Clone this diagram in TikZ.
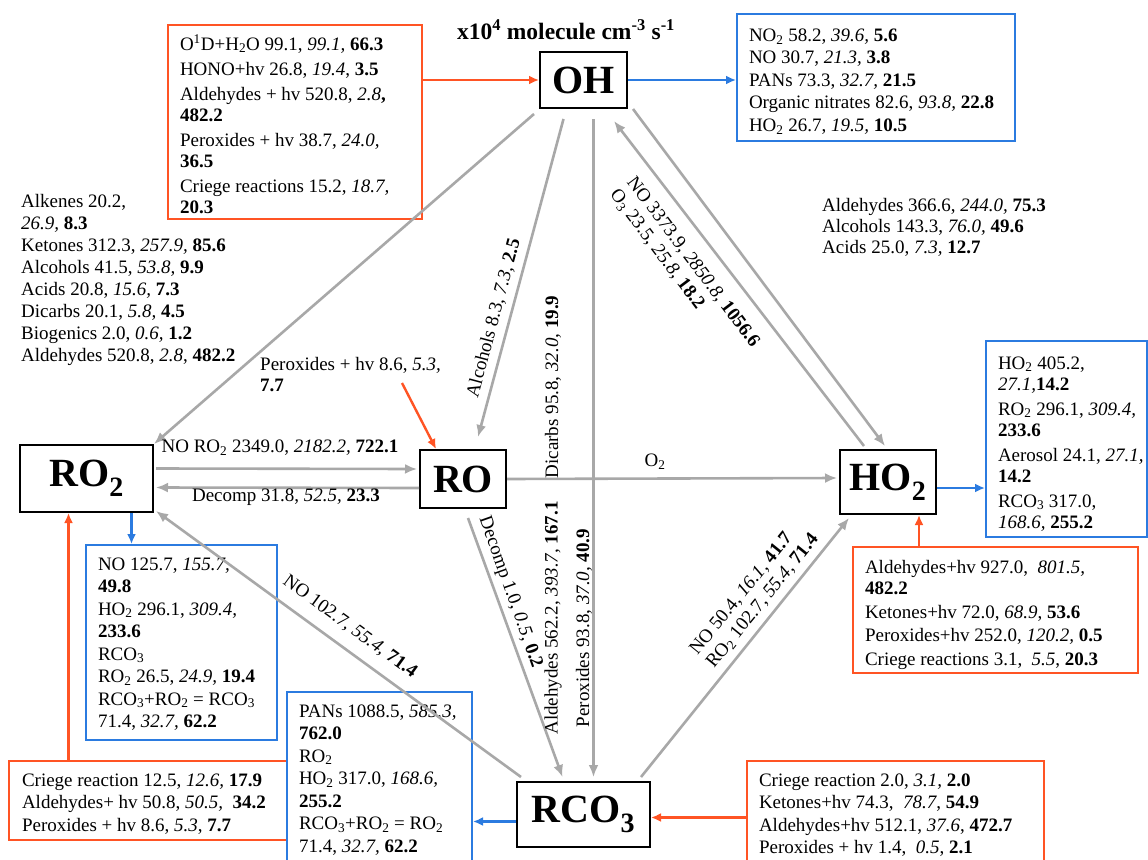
\documentclass[tikz,border=0pt]{standalone}
\usepackage{fontspec}
\setmainfont{Liberation Serif}
\usetikzlibrary{arrows.meta,calc}
\definecolor{boxred}{HTML}{FF5424}
\definecolor{boxblue}{HTML}{2B7BE0}
\definecolor{flowgray}{HTML}{A8A8A8}
\newcommand{\txt}{\fontsize{19}{22.5}\selectfont}
\newcommand{\speciesfont}{\fontsize{40}{40}\selectfont\bfseries}
\newcommand{\titlefont}{\fontsize{23.5}{26}\selectfont\bfseries}
\newcommand{\tsub}[1]{\textsubscript{#1}}
% [baselineskip]{text width}{box height}{space above first line}{lines}
\newcommand{\boxlines}[5][22.5pt]{\parbox[c][#3][t]{#2}{\fontsize{19}{#1}\selectfont\vspace*{#4}\begin{tabular}{@{}l@{}}#5\end{tabular}}}
\begin{document}
\begin{tikzpicture}[x=1pt,y=-1pt,
  species/.style={draw=black, line width=2pt, inner sep=0pt, font=\speciesfont},
  srcbox/.style={draw=boxred, line width=2pt, anchor=north west, inner xsep=12pt, inner ysep=0pt, font=\txt},
  sinkbox/.style={draw=boxblue, line width=2pt, anchor=north west, inner xsep=12pt, inner ysep=0pt, font=\txt},
  note/.style={inner sep=0pt, font=\txt},
  flow/.style={draw=flowgray, line width=2.6pt, -{Latex[length=12pt,width=10pt]}},
  srcflow/.style={draw=boxred, line width=2.4pt, -{Latex[length=10pt,width=9pt]}},
  sinkflow/.style={draw=boxblue, line width=2.4pt, -{Latex[length=10pt,width=9pt]}},
]
\useasboundingbox (0,0) rectangle (1148,859);
\fill[white] (0,0) rectangle (1148,859);
\clip (0,0) rectangle (1148,859);

% species
\node[species, minimum width=87pt, minimum height=56pt] (OH) at (583.5,80) {OH};
\node[species, minimum width=133pt, minimum height=67pt] (RO2) at (86.5,478.5) {RO\tsub{2}};
\node[species, minimum width=86pt, minimum height=58pt] (RO) at (463,479) {RO};
\node[species, minimum width=96pt, minimum height=64pt] (HO2) at (888,482) {HO\tsub{2}};
\node[species, minimum width=133pt, minimum height=65pt] (RCO3) at (583.5,814.5) {RCO\tsub{3}};

\node[font=\titlefont, inner sep=0pt] (units) at (566,30) {x10\textsuperscript{4} molecule cm\textsuperscript{-3} s\textsuperscript{-1}};

% sources (red) and sinks (blue)
\node[srcbox] (srcOH) at (167,24) {\boxlines[21pt]{230pt}{194pt}{10pt}{%
O\textsuperscript{1}D+H\tsub{2}O 99.1, \textit{99.1,} \textbf{66.3}\\[4pt]
HONO+hv 26.8, \textit{19.4}, \textbf{3.5}\\[4pt]
Aldehydes + hv 520.8, \textit{2.8}\textbf{,}\\ \textbf{482.2}\\[4pt]
Peroxides + hv 38.7, \textit{24.0,}\\ \textbf{36.5}\\[4pt]
Criege reactions 15.2, \textit{18.7,}\\ \textbf{20.3}}};

\node[sinkbox] (sinkOH) at (736,13) {\boxlines{254pt}{127pt}{11.5pt}{%
NO\tsub{2} 58.2, \textit{39.6,} \textbf{5.6}\\
NO 30.7, \textit{21.3,} \textbf{3.8}\\
PANs 73.3, \textit{32.7,} \textbf{21.5}\\
Organic nitrates 82.6, \textit{93.8,} \textbf{22.8}\\
HO\tsub{2} 26.7, \textit{19.5,} \textbf{10.5}}};

\node[sinkbox] (sinkHO2) at (985,340) {\boxlines[21.5pt]{137pt}{196pt}{13pt}{%
HO\tsub{2} 405.2,\\ \textit{27.1,}\textbf{14.2}\\[3pt]
RO\tsub{2} 296.1, \textit{309.4,}\\ \textbf{233.6}\\[3pt]
Aerosol 24.1, \textit{27.1,}\\ \textbf{14.2}\\[3pt]
RCO\tsub{3} 317.0,\\ \textit{168.6,} \textbf{255.2}}};

\node[srcbox] (srcHO2) at (852,546) {\boxlines[21.5pt]{261pt}{126pt}{11pt}{%
Aldehydes+hv 927.0, \ \textit{801.5,}\\ \textbf{482.2}\\[2pt]
Ketones+hv 72.0, \textit{68.9}, \textbf{53.6}\\[2pt]
Peroxides+hv 252.0, \textit{120.2,} \textbf{0.5}\\[2pt]
Criege reactions 3.1, \ \textit{5.5}, \textbf{20.3}}};

\node[sinkbox] (sinkRO2) at (85,544) {\boxlines{167pt}{195pt}{9.3pt}{%
NO 125.7, \textit{155.7,}\\ \textbf{49.8}\\
HO\tsub{2} 296.1, \textit{309.4,}\\ \textbf{233.6}\\
RCO\tsub{3}\\
RO\tsub{2} 26.5, \textit{24.9,} \textbf{19.4}\\
RCO\tsub{3}+RO\tsub{2} = RCO\tsub{3}\\
71.4, \textit{32.7,} \textbf{62.2}}};

\node[srcbox, inner xsep=13pt] (srcRO2) at (8,760) {\boxlines{252pt}{79pt}{9.3pt}{%
Criege reaction 12.5, \textit{12.6,} \textbf{17.9}\\
Aldehydes+ hv 50.8, \textit{50.5,} \ \textbf{34.2}\\
Peroxides + hv 8.6, \textit{5.3}, \textbf{7.7}}};

\node[sinkbox] (sinkRCO3) at (286,691) {\boxlines{161pt}{180pt}{9.3pt}{%
PANs 1088.5, \textit{585.3,}\\ \textbf{762.0}\\
RO\tsub{2}\\
HO\tsub{2} 317.0, \textit{168.6,}\\ \textbf{255.2}\\
RCO\tsub{3}+RO\tsub{2} = RO\tsub{2}\\
71.4, \textit{32.7,} \textbf{62.2}}};

\node[srcbox] (srcRCO3) at (746,760) {\boxlines{273pt}{115pt}{9.3pt}{%
Criege reaction 2.0, \textit{3.1,} \textbf{2.0}\\
Ketones+hv 74.3, \ \textit{78.7}, \textbf{54.9}\\
Aldehydes+hv 512.1, \textit{37.6}, \textbf{472.7}\\
Peroxides + hv 1.4, \ \textit{0.5}, \textbf{2.1}}};

% reaction flows
\draw[srcflow] (srcOH.east |- OH.west) -- (OH.west);
\draw[sinkflow] (OH.east) -- (sinkOH.west |- OH.east);
\draw[flow] ($(OH.south west)+(-5,5)$) -- (RO2.north east);
\draw[flow] ($(OH.south)+(-20,10)$) -- ($(RO.north)+(15,-12)$);
\draw[flow] ($(OH.south)+(10,10)$) -- ($(RCO3.north)+(10,-4)$);
\draw[flow] ($(HO2.north)+(-24,-3)$) -- ($(OH.south east)+(-14,12)$);
\draw[flow] ($(OH.south east)+(5,0)$) -- ($(HO2.north)+(-3,-3)$);
\draw[flow] ($(RO2.east)+(2,-10)$) -- ($(RO.west)+(-2,-10)$);
\draw[flow] ($(RO.west)+(0,9)$) -- ($(RO2.east)+(2,9)$);
\draw[flow] (RO.east) -- ($(HO2.west)+(-2,-4)$);
\draw[flow] ($(RO.south)+(5,9)$) -- ($(RCO3.north)+(-21,-4)$);
\draw[flow] ($(RCO3.north west)+(5,-4)$) -- ($(RO2.south east)+(2,-2)$);
\draw[flow] ($(RCO3.north east)+(-10,-4)$) -- ($(HO2.south west)+(10,3)$);

\coordinate (ro2out) at ($(RO2.south)+(45,0)$);
\draw[sinkflow] (ro2out) -- (ro2out |- sinkRO2.north);
\coordinate (ro2in) at ($(RO2.south)+(-18,0)$);
\draw[srcflow] (ro2in |- srcRO2.north) -- (ro2in);
\coordinate (ho2out) at ($(HO2.east)+(0,6)$);
\draw[sinkflow] (ho2out) -- (ho2out -| sinkHO2.west);
\coordinate (ho2in) at ($(HO2.south)+(31,0)$);
\draw[srcflow] (ho2in |- srcHO2.north) -- (ho2in);
\coordinate (rco3out) at ($(RCO3.west)+(0,7)$);
\draw[sinkflow] (rco3out) -- (rco3out -| sinkRCO3.east);
\coordinate (rco3in) at ($(RCO3.east)+(0,3)$);
\draw[srcflow] (rco3in -| srcRCO3.west) -- (rco3in);

% flow labels
\node[note, anchor=north west] (ohro2) at (21,193) {\fontsize{19}{21}\selectfont\begin{tabular}{@{}l@{}}
Alkenes 20.2,\\[1pt] \textit{26.9,} \textbf{8.3}\\[1pt]
Ketones 312.3, \textit{257.9,} \textbf{85.6}\\[1pt]
Alcohols 41.5, \textit{53.8,} \textbf{9.9}\\[1pt]
Acids 20.8, \textit{15.6,} \textbf{7.3}\\[1pt]
Dicarbs 20.1, \textit{5.8,} \textbf{4.5}\\[1pt]
Biogenics 2.0, \textit{0.6,} \textbf{1.2}\\[1pt]
Aldehydes 520.8, \textit{2.8}, \textbf{482.2}\end{tabular}};

\node[note, anchor=north west] (ohho2) at (822,197) {\fontsize{19}{21}\selectfont\begin{tabular}{@{}l@{}}
Aldehydes 366.6, \textit{244.0,} \textbf{75.3}\\
Alcohols 143.3, \textit{76.0,} \textbf{49.6}\\
Acids 25.0, \textit{7.3,} \textbf{12.7}\end{tabular}};

\node[note, anchor=north west] (perox) at (260,356) {\fontsize{19}{21}\selectfont\begin{tabular}{@{}l@{}}
Peroxides + hv 8.6, \textit{5.3,}\\ \textbf{7.7}\end{tabular}};
\coordinate (roin) at (402,383);
\draw[srcflow] (roin) -- ($(RO.north west)+(17,0)$);

\node[note] (ro2ro) at (280,448) {NO RO\tsub{2} 2349.0, \textit{2182.2,} \textbf{722.1}};
\node[note] (roro2) at (286,497) {Decomp 31.8, \textit{52.5,} \textbf{23.3}};
\node[note] (roho2) at (655,462) {O\tsub{2}};

\node[note, rotate=75] (ohro) at (494,318) {Alcohols 8.3, \textit{7.3,} \textbf{2.5}};
\node[note, rotate=90] (ohrco3a) at (553,387) {Dicarbs 95.8, \textit{32.0,} \textbf{19.9}};
\node[note, rotate=90] (ohrco3b) at (553,618) {Aldehydes 562.2, \textit{393.7,} \textbf{167.1}};
\node[note, rotate=90] (ohrco3c) at (584,628) {Peroxides 93.8, \textit{37.0,} \textbf{40.9}};
\node[note, rotate=-53] (ho2oh) at (684,269) {\fontsize{19}{21}\selectfont\begin{tabular}{@{}l@{}}
NO 3373.9, \textit{2850.8,} \textbf{1056.6}\\
O\tsub{3} 23.5, \textit{25.8,} \textbf{18.2}\end{tabular}};
\node[note, rotate=-70.5] (rorco3) at (510,592) {Decomp 1.0, \textit{0.5,} \textbf{0.2}};
\node[note, rotate=-36] (rco3ro2) at (350,627) {NO 102.7, \textit{55.4,} \textbf{71.4}};
\node[note, rotate=51] (rco3ho2) at (755,595) {\fontsize{19}{21}\selectfont\begin{tabular}{@{}l@{}}
NO 50.4, \textit{16.1,} \textbf{41.7}\\
RO\tsub{2} 102.7, \textit{55.4,} \textbf{71.4}\end{tabular}};
\end{tikzpicture}
\end{document}
